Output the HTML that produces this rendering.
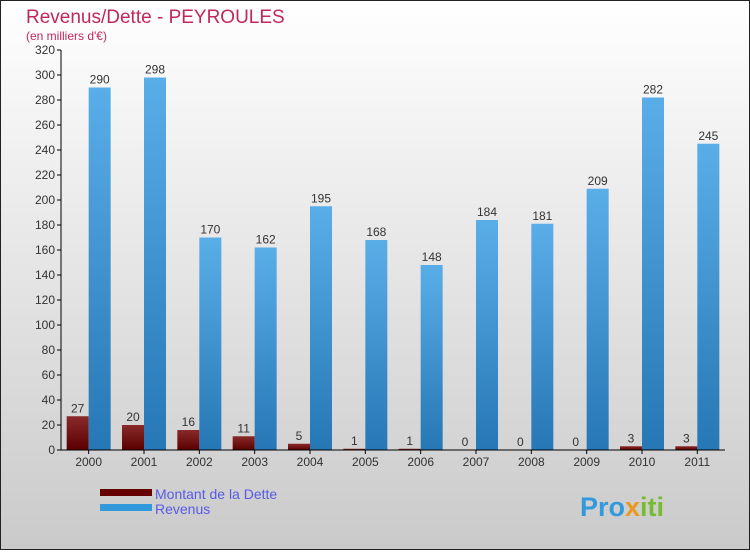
<!DOCTYPE html>
<html><head><meta charset="utf-8"><style>
body{margin:0}
#c{width:750px;height:550px;position:relative;font-family:"Liberation Sans",sans-serif}
</style></head><body>
<div id="c">
<svg id="s" width="750" height="550" xmlns="http://www.w3.org/2000/svg">
<defs>
<linearGradient id="bg" x1="0" y1="0" x2="0" y2="1"><stop offset="0" stop-color="#ffffff"/><stop offset="1" stop-color="#cacaca"/></linearGradient>
<linearGradient id="gr" x1="0" y1="0" x2="0" y2="1"><stop offset="0" stop-color="#5aaee8"/><stop offset="1" stop-color="#2677b5"/></linearGradient>
<linearGradient id="gd" x1="0" y1="0" x2="0" y2="1"><stop offset="0" stop-color="#8a2a2a"/><stop offset="1" stop-color="#5a0000"/></linearGradient>
</defs>
<rect x="0.5" y="0.5" width="749" height="549" fill="url(#bg)" stroke="#222"/>
<text x="26" y="23" font-size="19" fill="#c0285a">Revenus/Dette - PEYROULES</text>
<text x="26" y="40" font-size="12" fill="#c0285a">(en milliers d'€)</text>
<g id="plot"></g>
<rect x="100" y="489" width="52" height="7" fill="#660000"/>
<text x="155" y="499" font-size="14" fill="#5a5ae6">Montant de la Dette</text>
<rect x="100" y="504" width="52" height="7" fill="#3399dd"/>
<text x="155" y="514" font-size="14" fill="#5a5ae6">Revenus</text>
<text x="580" y="516" font-size="27" font-weight="bold" fill="#3399dd">Pro<tspan fill="#e89a20">x</tspan><tspan fill="#77bb33">iti</tspan></text>
</svg>
</div>
<script>
const years=["2000","2001","2002","2003","2004","2005","2006","2007","2008","2009","2010","2011"];
const dette=[27,20,16,11,5,1,1,0,0,0,3,3];
const revenus=[290,298,170,162,195,168,148,184,181,209,282,245];
const yTicks=[0,20,40,60,80,100,120,140,160,180,200,220,240,260,280,300,320];
const NS="http://www.w3.org/2000/svg";
const g=document.getElementById('plot');
const x0=61,x1=725,y0=450,y1=50,ymax=320;
const bw=(x1-x0)/years.length;
function y(v){return y0-(v/ymax)*(y0-y1);}
function mk(t,a){const e=document.createElementNS(NS,t);for(const k in a)e.setAttribute(k,a[k]);g.appendChild(e);return e;}
yTicks.forEach(v=>{
 const l=mk('line',{x1:x0-4,x2:x0,y1:y(v),y2:y(v),stroke:'#000'});
 
 
 const t=mk('text',{x:x0-6,y:y(v)+4,'text-anchor':'end','font-size':12,fill:'#333'});
 t.textContent=v;
 
 
});
years.forEach((yr,i)=>{
 const c=x0+bw*(i+0.5);
 const d=mk('rect',{x:c-22,y:y(dette[i]),width:22,height:y0-y(dette[i]),fill:'url(#gd)'});
 
 
 const r=mk('rect',{x:c,y:y(revenus[i]),width:22,height:y0-y(revenus[i]),fill:'url(#gr)'});
 
 
 const td=mk('text',{x:c-11,y:y(dette[i])-4,'text-anchor':'middle','font-size':12,fill:'#333'});
 td.textContent=dette[i];
 
 
 const tr=mk('text',{x:c+11,y:y(revenus[i])-4,'text-anchor':'middle','font-size':12,fill:'#333'});
 tr.textContent=revenus[i];
 
 
 const tk=mk('line',{x1:c,x2:c,y1:y0,y2:y0+4,stroke:'#000'});
 
 
 const xl=mk('text',{x:c,y:y0+16,'text-anchor':'middle','font-size':12,fill:'#333'});
 xl.textContent=yr;
 
 
});
const ya=mk('line',{x1:x0,x2:x0,y1:y1,y2:y0,stroke:'#000'});


const xa=mk('line',{x1:x0,x2:x1,y1:y0,y2:y0,stroke:'#000'});


</script>
</body></html>
